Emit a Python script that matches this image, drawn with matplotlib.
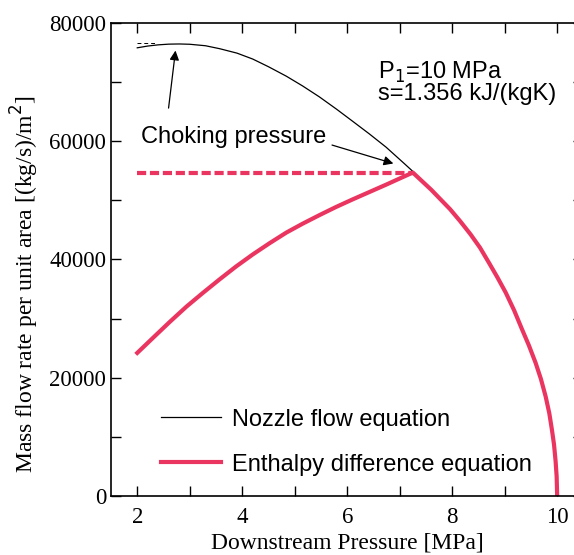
import numpy as np
import matplotlib.pyplot as plt
from matplotlib.ticker import MultipleLocator

# downstream pressure [MPa] and mass flux [(kg/s)/m2], nozzle flow equation
p_nozzle = [2.0, 2.2, 2.4, 2.6, 2.8, 3.0, 3.3, 3.57, 3.9, 4.2, 4.5, 4.84,
            5.15, 5.47, 5.8, 6.1, 6.42, 6.74, 7.09, 7.25, 7.6, 7.96, 8.15,
            8.35, 8.53, 8.7, 8.86, 9.02, 9.18, 9.33, 9.46, 9.59, 9.69, 9.78,
            9.85, 9.90, 9.94, 9.97, 9.99, 10.0]
G_nozzle = [75800, 76100, 76300, 76420, 76450, 76400, 76150, 75650, 74900,
            73900, 72600, 71000, 69350, 67500, 65400, 63400, 61250, 59000,
            56200, 54900, 51800, 48500, 46500, 44250, 42000, 39450, 37000,
            34400, 31400, 28200, 25500, 22500, 19800, 16850, 14000, 11200,
            8700, 5900, 3300, 0]

# enthalpy difference equation below the choking pressure
p_enth = [2.0, 2.3, 2.62, 2.94, 3.25, 3.57, 3.88, 4.2, 4.52, 4.84, 5.15,
          5.47, 5.78, 6.1, 6.42, 6.74, 7.0, 7.25]
G_enth = [24200, 26750, 29450, 32050, 34350, 36650, 38800, 40850, 42750,
          44550, 46050, 47500, 48850, 50150, 51400, 52650, 53700, 54700]

p_choke_nozzle = 2.8
p_choke_enth = 7.25
G_choke_nozzle = 76550
G_choke_enth = 54650

red = '#EA3560'
serif = 'Liberation Serif'
sans = 'Liberation Sans'

fig = plt.figure(figsize=(5.74, 5.55), dpi=100)
ax = fig.add_axes([0.1934, 0.1063, 0.823, 0.8523])

# past choking the enthalpy branch follows the nozzle curve
p_red = p_enth + [p for p in p_nozzle if p > p_choke_enth]
G_red = G_enth + [g for p, g in zip(p_nozzle, G_nozzle) if p > p_choke_enth]

ax.plot(p_nozzle, G_nozzle, color='black', lw=0.9, label='Nozzle flow equation')
ax.plot(p_red, G_red, color=red, lw=3.0, solid_joinstyle='round',
        label='Enthalpy difference equation')
ax.plot([2.0, 2.35], [G_choke_nozzle, G_choke_nozzle], color='black',
        lw=0.7, ls=(0, (4, 3)))
ax.plot([2.0, p_choke_enth], [G_choke_enth, G_choke_enth], color=red,
        lw=3.0, ls=(0, (2.2, 0.9)))

ax.set_xlim(1.5, 10.5)
ax.set_ylim(0, 80000)
ax.xaxis.set_major_locator(MultipleLocator(2))
ax.xaxis.set_minor_locator(MultipleLocator(1))
ax.yaxis.set_major_locator(MultipleLocator(20000))
ax.yaxis.set_minor_locator(MultipleLocator(10000))
ax.tick_params(which='both', direction='in', length=7, width=1,
               top=True, right=True, labelsize=16.5)
ax.tick_params(axis='x', pad=8)
for lab in ax.get_xticklabels() + ax.get_yticklabels():
    lab.set_family(serif)
for s in ax.spines.values():
    s.set_linewidth(1.2)

ax.set_xlabel('Downstream Pressure [MPa]', family=serif, fontsize=17, labelpad=3)
ax.set_ylabel('Mass flow rate per unit area [(kg/s)/m$^2$]', family=serif,
              fontsize=17)
ax.yaxis.set_label_coords(-0.148, 0.448)

ax.annotate('', xy=(2.735, 75800), xytext=(2.59, 65140),
            arrowprops=dict(arrowstyle='-|>', color='black', lw=0.9,
                            mutation_scale=14))
ax.annotate('', xy=(6.93, 56100), xytext=(5.66, 59490),
            arrowprops=dict(arrowstyle='-|>', color='black', lw=0.9,
                            mutation_scale=14))
ax.text(3.84, 60800, 'Choking pressure', family=sans, fontsize=17,
        ha='center', va='center')
ax.text(6.58, 70000, 'P$_1$=10 MPa\ns=1.356 kJ/(kgK)', family=sans,
        fontsize=17, ha='left', va='center', linespacing=0.9)

ax.legend(loc='lower left', bbox_to_anchor=(0.106, 0.043), frameon=False,
          prop={'family': sans, 'size': 17}, handlelength=2.55,
          handletextpad=0.47, labelspacing=0.98, borderpad=0,
          borderaxespad=0)

fig.savefig('out.png', dpi=100)
